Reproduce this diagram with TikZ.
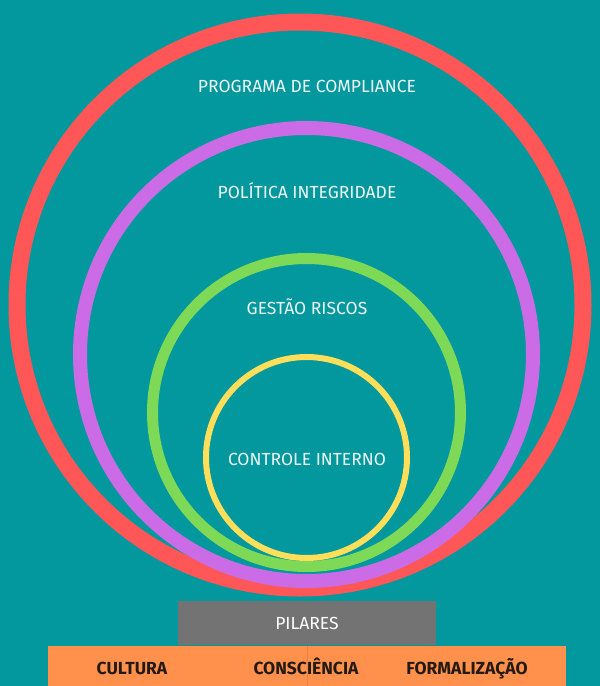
\documentclass[tikz,border=0pt]{standalone}
\usepackage{fontspec}
\setmainfont{Fira Sans}
\usetikzlibrary{positioning}

\definecolor{bgteal}{HTML}{03989E}
\definecolor{ringred}{HTML}{FF5757}
\definecolor{ringpurple}{HTML}{CB6CE6}
\definecolor{ringgreen}{HTML}{7ED957}
\definecolor{ringyellow}{HTML}{FFDE59}
\definecolor{bargray}{HTML}{737373}
\definecolor{barorange}{HTML}{FF914D}
\definecolor{labelwhite}{HTML}{EEF6F6}
\definecolor{pillartext}{HTML}{231A14}

\begin{document}
\begin{tikzpicture}[x=1pt, y=-1pt,
    ring/.style={circle, draw, inner sep=0pt},
    caption/.style={text=labelwhite, font=\fontsize{17.5}{20}\selectfont, text height=12.5pt, text depth=0pt},
    pillar/.style={text=pillartext, font=\fontsize{17.5}{20}\selectfont\bfseries, text height=12.5pt, text depth=0pt},
    bar/.style={inner sep=0pt, minimum height=44pt}]
    \useasboundingbox (0,0) rectangle (600,686);
    \fill [bgteal] (0,0) rectangle (600,686);

    % Rings {compliance, integridade, riscos, controle}
    \node [ring, draw=ringred,    line width=17pt, minimum size=566pt] (compliance)  at (300,305)   {};
    \node [ring, draw=ringpurple, line width=14pt, minimum size=453pt] (integridade) at (306.5,354.5) {};
    \node [ring, draw=ringgreen,  line width=11pt, minimum size=308pt] (riscos)      at (306.5,412.5) {};
    \node [ring, draw=ringyellow, line width=6pt,  minimum size=201pt] (controle)    at (306.5,457.5) {};

    % Ring labels
    \node [caption] (tcompliance)  at (307,86)  {PROGRAMA DE COMPLIANCE};
    \node [caption] (tintegridade) at (307,192) {POLÍTICA INTEGRIDADE};
    \node [caption] (triscos)      at (307,308) {GESTÃO RISCOS};
    \node [caption] (tcontrole)    at (307,459) {CONTROLE INTERNO};

    % Bars
    \node [bar, fill=barorange, minimum width=518pt] (base) at (307,668) {};
    \draw [barorange!90!black, line width=0.5pt] (base.north) -- (base.south);
    \node [bar, fill=bargray, minimum width=258pt] (pilares) at (307,623) {};
    \node [caption, text=white] (tpilares) at (pilares.center) {PILARES};

    % Pillars
    \node [pillar] (cultura)      at (132,668) {CULTURA};
    \node [pillar] (consciencia)  at (306,668) {CONSCIÊNCIA};
    \node [pillar] (formalizacao) at (467,668) {FORMALIZAÇÃO};
\end{tikzpicture}
\end{document}
